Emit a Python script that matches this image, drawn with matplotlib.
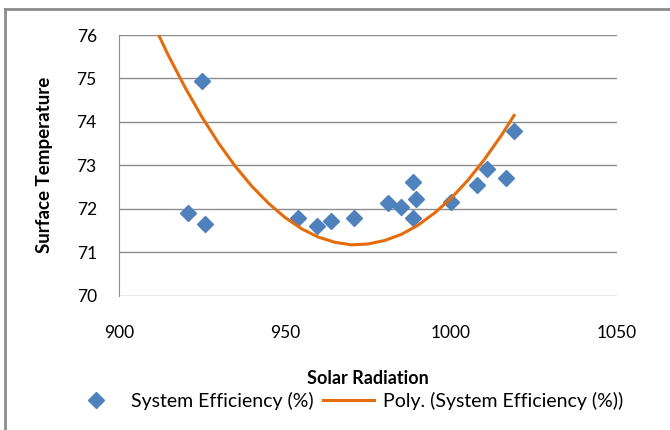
import matplotlib.pyplot as plt
from matplotlib.lines import Line2D

# scatter points
radiation = [920.9, 924.9, 925.9, 954.0, 959.5, 963.9, 970.9, 980.9, 984.9,
             988.6, 989.6, 988.6, 1000.0, 1007.9, 1010.9, 1016.7, 1019.0]
temperature = [71.90, 74.94, 71.65, 71.78, 71.60, 71.73, 71.78, 72.13, 72.05,
               72.62, 72.22, 71.78, 72.16, 72.55, 72.91, 72.70, 73.78]

# poly trendline as drawn in the chart
trend_x = [911, 915, 920, 925, 930, 935, 940, 945, 950, 955, 960, 965, 970,
           975, 980, 985, 990, 995, 1000, 1005, 1010, 1015, 1019]
trend_y = [76.15, 75.51, 74.78, 74.11, 73.51, 72.98, 72.52, 72.13, 71.80,
           71.54, 71.35, 71.23, 71.17, 71.19, 71.27, 71.41, 71.62, 71.90,
           72.24, 72.65, 73.13, 73.67, 74.15]

plt.rcParams['font.family'] = ['Lato', 'DejaVu Sans']

fig = plt.figure(figsize=(6.7, 4.3), dpi=100)
ax = fig.add_axes([119/670, 1 - 295.7/430, 498/670, 260.7/430])

ax.set_xlim(900, 1050)
ax.set_ylim(70, 76)
ax.set_xticks([900, 950, 1000, 1050])
ax.set_yticks(range(70, 77))
ax.grid(axis='y', color='#8c8c8c', linewidth=1)
ax.set_axisbelow(True)
for s in ['top', 'right', 'bottom']:
    ax.spines[s].set_visible(False)
ax.spines['left'].set_color('#8c8c8c')
ax.tick_params(length=0, labelsize=12.5)
ax.tick_params(axis='y', pad=16)
ax.tick_params(axis='x', pad=21)

ax.plot(radiation, temperature, 'D', color='#4F81BD', markersize=8,
        linestyle='none', label='System Efficiency (%)')
ax.plot(trend_x, trend_y, color='#E46C0A', linewidth=2.2,
        label='Poly. (System Efficiency (%))')

ax.set_xlabel('Solar Radiation', fontsize=13, fontweight='bold', labelpad=21)
ax.set_ylabel('Surface Temperature', fontsize=13.5, fontweight='bold', labelpad=17)

fig.legend(loc='center', bbox_to_anchor=(347/670, 1 - 401/430),
           ncol=2, frameon=False, fontsize=14, handlelength=2.6,
           handletextpad=0.5, columnspacing=0.5)

fig.add_artist(Line2D([5/670, 1], [1 - 9/430, 1 - 9/430], color='#8c8c8c', linewidth=2))
fig.add_artist(Line2D([5/670, 5/670], [0, 1 - 9/430], color='#8c8c8c', linewidth=2))

fig.savefig('out.png')
